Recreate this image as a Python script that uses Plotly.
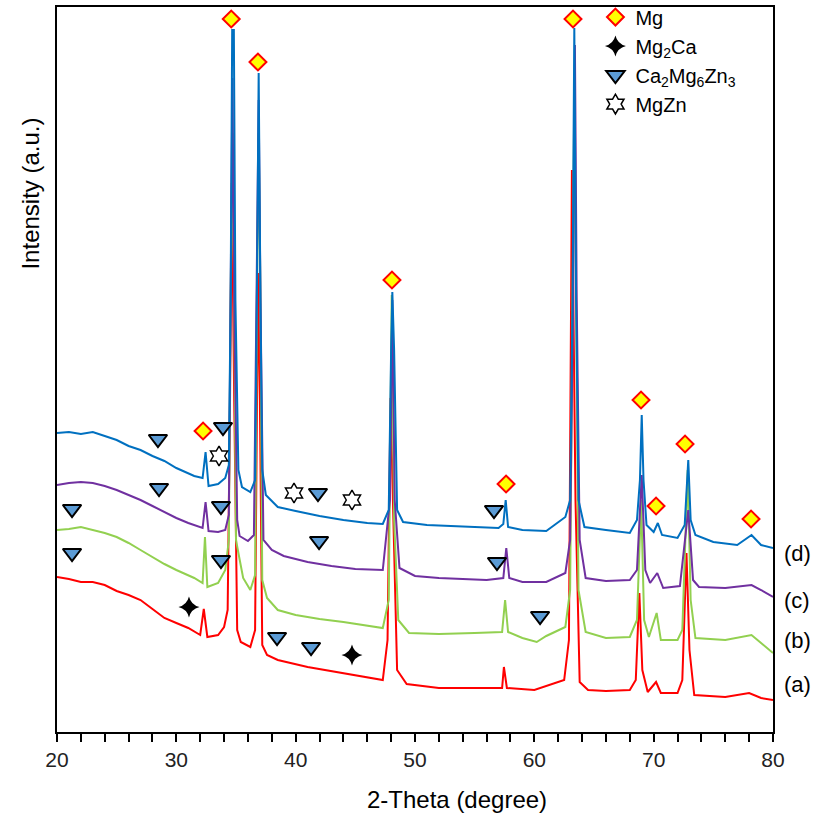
import plotly.graph_objects as go

# ---- XRD patterns (2-theta in degrees, intensity in a.u.) ----
d_theta = [20, 21, 22, 23, 24, 25, 26, 27, 28, 29, 30, 31, 31.5, 32.2, 32.45, 32.7, 33.5, 34.1, 34.4, 34.55,
           34.68, 34.82, 34.95, 35.2, 35.5, 36.2, 36.6, 36.75, 36.9, 37.05, 37.2, 37.5, 38.5, 40, 42, 44,
           46, 47.3, 47.8, 48.0, 48.1, 48.25, 48.5, 49, 51, 53, 55, 57, 57.4, 57.6, 57.8, 59, 61, 62.6,
           63.0, 63.2, 63.35, 63.5, 63.7, 64.2, 66, 68, 68.6, 68.85, 69.0, 69.15, 69.4, 70, 70.35, 70.7,
           72, 72.6, 72.9, 73.1, 73.5, 75, 77, 78.2, 79, 80]
d_int = [299, 300, 298, 300, 296, 292, 286, 282, 276, 271, 264, 259, 256, 254, 280, 246, 248, 254, 267, 432,
         702, 702, 432, 262, 245, 240, 252, 432, 659, 432, 262, 237, 225, 221, 216, 212,
         209, 208, 222, 382, 440, 382, 222, 210, 207, 206, 205, 204, 208, 232, 205, 202, 201, 215,
         232, 432, 704, 432, 232, 205, 202, 199, 212, 252, 317, 252, 207, 200, 209, 197,
         194, 207, 272, 212, 197, 190, 187, 197, 187, 184]

c_theta = [20, 21, 22, 23, 24, 25, 26, 27, 28, 29, 30, 31, 31.5, 32.2, 32.45, 32.7, 33.5, 34.1, 34.4, 34.55,
           34.7, 34.85, 35.1, 35.3, 36.0, 36.5, 36.75, 36.9, 37.05, 37.3, 38, 39, 41, 43, 45, 47.3, 47.9,
           48.1, 48.3, 48.7, 50, 52, 54, 56, 57.4, 57.65, 57.9, 59, 61, 62.6, 63.0, 63.25, 63.4, 63.55,
           63.8, 64.3, 66, 68, 68.6, 69.0, 69.3, 69.7, 70.3, 70.8, 72.2, 72.9, 73.3, 73.8, 76, 78.2, 79, 80]
c_int = [247, 249, 250, 249, 246, 242, 237, 232, 226, 220, 214, 209, 207, 204, 230, 201, 200, 202, 217, 432,
         654, 432, 212, 196, 191, 197, 432, 632, 432, 192, 182, 176, 170, 166, 163, 162, 232,
         432, 232, 164, 156, 154, 153, 152, 154, 184, 154, 150, 150, 159, 192, 432, 687, 432,
         192, 154, 151, 152, 162, 257, 162, 149, 159, 144, 146, 222, 152, 145, 144, 147, 142, 135]

b_theta = [20, 21, 22, 23, 24, 25, 26, 27, 28, 29, 30, 31, 31.5, 32.2, 32.4, 32.6, 33.5, 34.1, 34.4, 34.55,
           34.7, 34.85, 35.0, 35.2, 35.6, 36.2, 36.6, 36.75, 36.9, 37.05, 37.2, 37.6, 38.5, 40, 42, 44, 46,
           47.3, 47.8, 48.05, 48.25, 48.6, 49.5, 52, 55, 57.3, 57.55, 57.8, 59, 60.2, 61, 62.6, 63.0, 63.2,
           63.35, 63.5, 63.7, 64.3, 66, 68, 68.6, 68.95, 69.2, 69.6, 70.25, 70.6, 72.0, 72.4, 72.85, 73.1,
           73.5, 76, 78.2, 79, 80]
b_int = [202, 203, 205, 202, 199, 195, 189, 182, 175, 168, 162, 157, 154, 149, 195, 145, 149, 162, 192, 432,
         599, 432, 192, 179, 154, 142, 157, 432, 599, 432, 152, 134, 122, 117, 113, 110, 106,
         104, 132, 437, 212, 112, 99, 98, 99, 100, 132, 100, 94, 90, 96, 105, 142, 432,
         642, 432, 142, 100, 94, 95, 112, 232, 112, 95, 119, 92, 92, 102, 262, 132,
         94, 92, 97, 89, 79]

a_theta = [20, 21, 22, 23, 24, 25, 26, 27, 28, 29, 30, 31, 32.0, 32.3, 32.6, 33.5, 34.0, 34.3, 34.5, 34.65,
           34.85, 35.1, 35.4, 36.2, 36.6, 36.75, 36.85, 37.0, 37.2, 37.6, 38.5, 41, 44, 46, 47.3, 47.7,
           47.95, 48.15, 48.5, 49.3, 52, 55, 57.3, 57.45, 57.7, 60, 62.5, 62.9, 63.15, 63.45, 63.8, 64.5,
           66, 68, 68.5, 68.8, 69.05, 69.5, 70.2, 70.6, 72.0, 72.4, 72.75, 73.0, 73.4, 76, 78.0, 79, 80]
a_int = [155, 153, 150, 150, 147, 141, 137, 132, 123, 114, 109, 104, 97, 123, 95, 97, 105, 122, 332, 549,
         332, 102, 90, 85, 102, 332, 459, 332, 87, 77, 72, 65, 59, 55, 52, 92,
         334, 232, 62, 48, 44, 44, 44, 65, 44, 42, 52, 92, 562, 232, 50, 42,
         41, 42, 52, 139, 62, 40, 50, 39, 39, 52, 179, 82, 37, 35, 39, 34, 32]

# ---- phase markers (2-theta, intensity) ----
mg_theta = [32.24, 34.6, 36.84, 48.07, 57.63, 63.24, 68.94, 70.2, 72.63, 78.16]
mg_int = [301, 713, 670, 452, 248, 713, 332, 226, 288, 213]
mg2ca_theta = [31.06, 44.72]
mg2ca_int = [125, 77]
camgzn_theta = [28.46, 33.91, 21.26, 28.55, 33.74, 41.87, 56.62, 21.26, 33.74, 41.96, 56.87, 60.48, 38.44, 41.29]
camgzn_int = [293, 305, 223, 244, 226, 239, 222, 179, 172, 191, 170, 116, 95, 85]
mgzn_theta = [33.58, 39.86, 44.72]
mgzn_int = [276, 239, 232]

sample_labels = ["(d)", "(c)", "(b)", "(a)"]
sample_label_int = [179, 132, 92, 48]

FONT = "Arial, 'Liberation Sans', sans-serif"

fig = go.Figure()
for th, it, col in [(a_theta, a_int, "#FF0000"), (b_theta, b_int, "#92D050"),
                    (c_theta, c_int, "#7030A0"), (d_theta, d_int, "#0070C0")]:
    fig.add_trace(go.Scatter(x=th, y=it, mode="lines", line=dict(color=col, width=2),
                             showlegend=False, hoverinfo="skip"))

fig.add_trace(go.Scatter(x=mg_theta, y=mg_int, mode="markers", name="Mg",
                         marker=dict(symbol="diamond", size=13, color="#FFFF00",
                                     line=dict(color="#FF0000", width=2))))
fig.add_trace(go.Scatter(x=mg2ca_theta, y=mg2ca_int, mode="markers", name="Mg<sub>2</sub>Ca",
                         marker=dict(symbol="star-diamond", size=15, color="#000000",
                                     line=dict(color="#000000", width=0))))
fig.add_trace(go.Scatter(x=camgzn_theta, y=camgzn_int, mode="markers",
                         name="Ca<sub>2</sub>Mg<sub>6</sub>Zn<sub>3</sub>",
                         marker=dict(symbol="triangle-down", size=16, color="#5B9BD5",
                                     line=dict(color="#000000", width=2))))
fig.add_trace(go.Scatter(x=mgzn_theta, y=mgzn_int, mode="markers", name="MgZn",
                         marker=dict(symbol="hexagram", size=15, color="#FFFFFF",
                                     line=dict(color="#000000", width=1.5))))

for lab, yv in zip(sample_labels, sample_label_int):
    fig.add_annotation(x=1.013, xref="paper", y=yv, yref="y", text=lab, showarrow=False,
                       xanchor="left", yanchor="middle", font=dict(family=FONT, size=22, color="black"))

fig.add_annotation(x=0.559, xref="paper", y=-0.093, yref="paper", text="2-Theta (degree)",
                   showarrow=False, xanchor="center", yanchor="middle",
                   font=dict(family=FONT, size=24, color="black"))
fig.add_annotation(x=-0.037, xref="paper", y=0.742, yref="paper", text="Intensity (a.u.)",
                   showarrow=False, textangle=-90, xanchor="center", yanchor="middle",
                   font=dict(family=FONT, size=24, color="black"))

fig.update_layout(
    width=817, height=823,
    margin=dict(l=57, r=44, t=7, b=91, autoexpand=False),
    plot_bgcolor="white", paper_bgcolor="white",
    font=dict(family=FONT, color="black"),
    legend=dict(x=0.752, y=1.013, xanchor="left", yanchor="top", bgcolor="rgba(0,0,0,0)",
                font=dict(family=FONT, size=20, color="black"), tracegroupgap=0,
                itemsizing="trace"),
)
fig.update_xaxes(range=[20, 80], tickvals=[20, 30, 40, 50, 60, 70, 80], ticks="outside",
                 ticklen=8, tickwidth=1.5, tickcolor="black",
                 minor=dict(dtick=2, ticks="outside", ticklen=8, tickwidth=1.5, tickcolor="black"),
                 showline=True, linewidth=2, linecolor="black", mirror=True,
                 showgrid=False, zeroline=False, tickfont=dict(family=FONT, size=21, color="#222"))
fig.update_yaxes(range=[0, 725], showticklabels=False, ticks="", showline=True, linewidth=2,
                 linecolor="black", mirror=True, showgrid=False, zeroline=False)

fig.write_html("out.html")
